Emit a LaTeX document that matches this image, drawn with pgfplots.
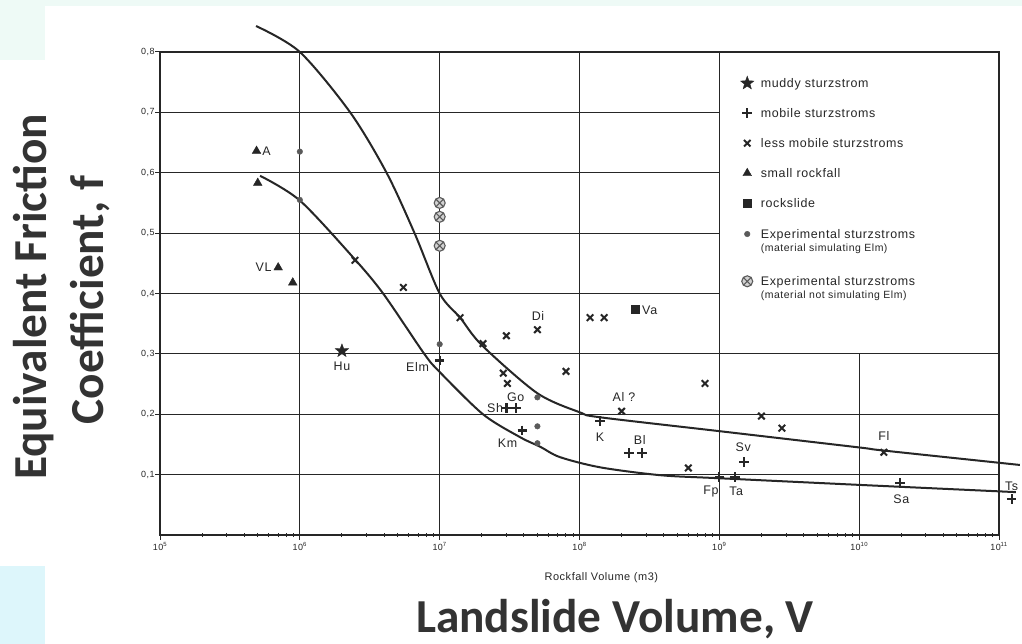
\documentclass[border=0pt]{standalone}
\usepackage{fontspec}
\setmainfont{Liberation Sans}
\newfontfamily\labelfont{Carlito}
\newfontfamily\chartfont[LetterSpace=5]{Liberation Sans}
\usepackage{pgfplots}
\pgfplotsset{compat=1.18}
\usetikzlibrary{plotmarks}

\definecolor{mint}{HTML}{EEFAF6}
\definecolor{paleblue}{HTML}{DDF6FB}
\definecolor{labelgray}{HTML}{333333}
\definecolor{ink}{HTML}{262626}
\definecolor{dotgray}{HTML}{5A5A5A}

% filled five-pointed star
\pgfdeclareplotmark{fstar}{%
  \pgfpathmoveto{\pgfpointpolar{90}{\pgfplotmarksize}}%
  \pgfpathlineto{\pgfpointpolar{126}{0.42\pgfplotmarksize}}%
  \pgfpathlineto{\pgfpointpolar{162}{\pgfplotmarksize}}%
  \pgfpathlineto{\pgfpointpolar{198}{0.42\pgfplotmarksize}}%
  \pgfpathlineto{\pgfpointpolar{234}{\pgfplotmarksize}}%
  \pgfpathlineto{\pgfpointpolar{270}{0.42\pgfplotmarksize}}%
  \pgfpathlineto{\pgfpointpolar{306}{\pgfplotmarksize}}%
  \pgfpathlineto{\pgfpointpolar{342}{0.42\pgfplotmarksize}}%
  \pgfpathlineto{\pgfpointpolar{18}{\pgfplotmarksize}}%
  \pgfpathlineto{\pgfpointpolar{54}{0.42\pgfplotmarksize}}%
  \pgfpathclose\pgfusepathqfillstroke}

\begin{document}
\begin{tikzpicture}[x=1bp,y=1bp]
\path[use as bounding box] (0,0) rectangle (1022,644);
\fill[white] (0,0) rectangle (1022,644);
\fill[mint] (0,638) rectangle (1022,644);
\fill[mint] (0,584) rectangle (45,644);
\fill[paleblue] (0,0) rectangle (45,78);

% slide titles
\node[font=\labelfont\bfseries\fontsize{47.5}{50}\selectfont, text=labelgray, anchor=base]
  at (615,11) {Landslide Volume, V};
\node[font=\labelfont\bfseries\fontsize{47.5}{50}\selectfont, text=labelgray, anchor=base, rotate=90]
  at (46,347) {Equivalent Friction};
\node[font=\labelfont\bfseries\fontsize{47.5}{50}\selectfont, text=labelgray, anchor=base, rotate=90]
  at (103,344) {Coefficient, f};

\begin{axis}[
  at={(160bp,109bp)}, anchor=south west,
  scale only axis, width=839bp, height=483bp,
  xmode=log, xmin=1e5, xmax=1e11, ymin=0, ymax=0.8,
  clip=false,
  axis line style={ink, line width=1.2bp},
  every tick/.style={ink, line width=1bp},
  tick align=center,
  major tick length=10bp, minor tick length=4.5bp,
  xtick pos=bottom, ytick pos=left,
  xtick={1e5,1e6,1e7,1e8,1e9,1e10,1e11},
  xticklabels={10\textsuperscript{5},10\textsuperscript{6},10\textsuperscript{7},10\textsuperscript{8},10\textsuperscript{9},10\textsuperscript{10},10\textsuperscript{11}},
  ytick={0.1,0.2,0.3,0.4,0.5,0.6,0.7,0.8},
  /pgf/number format/.cd, use comma, fixed, fixed zerofill, precision=1, assume math mode=true,
  /pgfplots/.cd,
  tick label style={font=\chartfont\fontsize{9}{10}\selectfont, text=ink},
  xticklabel style={yshift=1bp},
  yticklabel style={xshift=3bp},
  legend style={at={(0.6667,1)}, anchor=north west, draw=none, fill=none,
    xshift=21bp, yshift=-24bp, row sep=15.5bp, column sep=5bp, inner sep=0pt,
    font=\chartfont\fontsize{12.5}{14}\selectfont, text=ink,
    nodes={inner sep=2bp}, cells={anchor=base west}},
  legend image code/.code={\draw[mark repeat=2,mark phase=2,#1,only marks]
    plot coordinates {(0bp,4.5bp)(7bp,4.5bp)(14bp,4.5bp)};},
]

% chart ruling: full-width lines below the key, shorter ones beside it
\draw[ink, line width=1.1bp] (axis cs:1e5,0.1) -- (axis cs:1e11,0.1);
\draw[ink, line width=1.1bp] (axis cs:1e5,0.2) -- (axis cs:1e11,0.2);
\draw[ink, line width=1.1bp] (axis cs:1e5,0.3) -- (axis cs:1e11,0.3);
\draw[ink, line width=1.1bp] (axis cs:1e5,0.4) -- (axis cs:1e9,0.4);
\draw[ink, line width=1.1bp] (axis cs:1e5,0.5) -- (axis cs:1e9,0.5);
\draw[ink, line width=1.1bp] (axis cs:1e5,0.6) -- (axis cs:1e9,0.6);
\draw[ink, line width=1.1bp] (axis cs:1e5,0.7) -- (axis cs:1e9,0.7);
\draw[ink, line width=1.1bp] (axis cs:1e6,0) -- (axis cs:1e6,0.8);
\draw[ink, line width=1.1bp] (axis cs:1e7,0) -- (axis cs:1e7,0.8);
\draw[ink, line width=1.1bp] (axis cs:1e8,0) -- (axis cs:1e8,0.8);
\draw[ink, line width=1.1bp] (axis cs:1e9,0) -- (axis cs:1e9,0.8);
\draw[ink, line width=1.1bp] (axis cs:1e10,0) -- (axis cs:1e10,0.3);

% upper and lower envelope curves
\addplot[forget plot, smooth, ink, line width=2bp] coordinates {
  (4.86e5,0.843) (1e6,0.800) (2.29e6,0.700) (4.17e6,0.600) (6.61e6,0.500)
  (1e7,0.400) (1.40e7,0.360) (2.01e7,0.314) (4.98e7,0.235) (1.01e8,0.203)
  (1.40e8,0.195) (1e9,0.172) (1e10,0.145) (1.48e10,0.140) (1.41e11,0.116)};
\addplot[forget plot, smooth, ink, line width=2bp] coordinates {
  (5.19e5,0.595) (1e6,0.554) (2.40e6,0.460) (3.94e6,0.400) (7.76e6,0.300)
  (1e7,0.270) (2.04e7,0.200) (3.76e7,0.162) (5.25e7,0.146)
  (7.24e7,0.129) (1.41e8,0.112) (3.80e8,0.099) (1e9,0.094) (1e10,0.083)
  (1.32e11,0.071)};

% muddy sturzstrom
\addplot[only marks, mark=fstar, mark size=7bp, ink, mark options={fill=ink}]
  coordinates {(2e6,0.305)};
\addlegendentry{muddy sturzstrom}
% mobile sturzstroms
\addplot[only marks, mark=+, mark size=4.8bp, ink, mark options={line width=2.2bp}]
  coordinates {(1e7,0.289) (3e7,0.210) (3.5e7,0.210) (3.9e7,0.173) (1.4e8,0.189)
  (2.25e8,0.136) (2.8e8,0.136) (1e9,0.096) (1.3e9,0.096) (1.5e9,0.121)
  (1.95e10,0.086) (1.23e11,0.060)};
\addlegendentry{mobile sturzstroms}
% less mobile sturzstroms
\addplot[only marks, mark=x, mark size=4.6bp, ink, mark options={line width=2bp}]
  coordinates {(2.48e6,0.455) (5.5e6,0.410) (1.4e7,0.360) (2.04e7,0.317)
  (3e7,0.330) (5e7,0.340) (1.19e8,0.360) (1.5e8,0.360) (8e7,0.271)
  (2.85e7,0.268) (3.05e7,0.251) (2e8,0.205) (7.9e8,0.251) (2e9,0.197)
  (2.8e9,0.177) (6e8,0.111) (1.5e10,0.137)};
\addlegendentry{less mobile sturzstroms}
% small rockfall
\addplot[only marks, mark=triangle*, mark size=5bp, ink, mark options={fill=ink}]
  coordinates {(4.9e5,0.636) (5e5,0.583) (7e5,0.443) (8.9e5,0.418)};
\addlegendentry{small rockfall}
% rockslide
\addplot[only marks, mark=square*, mark size=4bp, ink, mark options={fill=ink}]
  coordinates {(2.5e8,0.374)};
\addlegendentry{rockslide}
% experimental, material simulating Elm
\addplot[only marks, mark=*, mark size=2.8bp, dotgray, mark options={fill=dotgray}]
  coordinates {(1e6,0.635) (1e6,0.555) (1e7,0.316) (5e7,0.228) (5e7,0.180) (5e7,0.152)};
\addlegendentry[text depth=18bp]{\begin{tabular}[t]{@{}l@{}}Experimental sturzstroms\\[-1bp]{\fontsize{10.5}{11}\selectfont (material simulating Elm)}\end{tabular}}
% experimental, material not simulating Elm
\addplot[only marks, mark=otimes*, mark size=5.5bp, dotgray, mark options={fill=gray!35, line width=1.1bp}]
  coordinates {(1e7,0.550) (1e7,0.527) (1e7,0.479)};
\addlegendentry[text depth=18bp]{\begin{tabular}[t]{@{}l@{}}Experimental sturzstroms\\[-1bp]{\fontsize{10.5}{11}\selectfont (material not simulating Elm)}\end{tabular}}

% site names
\begin{scope}[every node/.style={font=\chartfont\fontsize{12.5}{13}\selectfont, text=ink, inner sep=0pt}]
\node[anchor=west] at (axis cs:5.37e5,0.636) {A};
\node[anchor=east] at (axis cs:6.3e5,0.443) {VL};
\node at (axis cs:2e6,0.279) {Hu};
\node[anchor=east] at (axis cs:8.4e6,0.278) {Elm};
\node at (axis cs:5.05e7,0.362) {Di};
\node[anchor=west] at (axis cs:2.8e8,0.372) {Va};
\node at (axis cs:3.5e7,0.229) {Go};
\node[anchor=east] at (axis cs:2.85e7,0.210) {Sh};
\node[anchor=east] at (axis cs:3.6e7,0.152) {Km};
\node at (axis cs:2.08e8,0.228) {Al ?};
\node at (axis cs:1.4e8,0.162) {K};
\node at (axis cs:2.7e8,0.157) {Bl};
\node at (axis cs:8.7e8,0.072) {Fp};
\node at (axis cs:1.32e9,0.072) {Ta};
\node at (axis cs:1.48e9,0.146) {Sv};
\node at (axis cs:1.5e10,0.164) {Fl};
\node at (axis cs:2.0e10,0.059) {Sa};
\node at (axis cs:1.23e11,0.081) {Ts};
\node[font=\chartfont\fontsize{11}{12}\selectfont] at (rel axis cs:0.526,0) [yshift=-43bp] {Rockfall Volume (m3)};
\end{scope}
\end{axis}
\end{tikzpicture}
\end{document}
